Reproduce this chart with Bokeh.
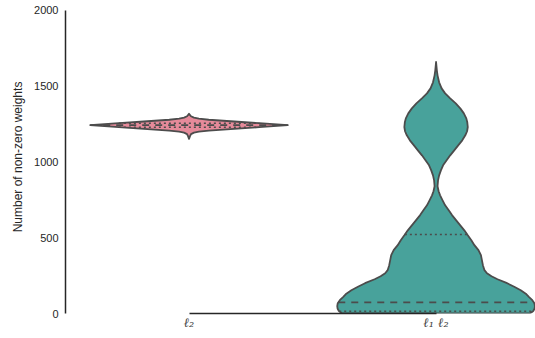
import numpy as np
from bokeh.plotting import figure
from bokeh.models import FixedTicker, Range1d
from bokeh.embed import file_html
from bokeh.resources import INLINE

# groups and their fill colours
categories = ["ℓ₂", "ℓ₁ ℓ₂"]
fill_colors = ["#e68a9a", "#48a29b"]
edge_color = "#4c4c4c"

# density outline of the ℓ₂ group: non-zero weight counts and relative width
l2_counts = [1153, 1170, 1184, 1194, 1200, 1207, 1217, 1230, 1243,
             1256, 1269, 1279, 1286, 1293, 1302, 1318]
l2_density = [0.0, 0.01, 0.02, 0.05, 0.10, 0.20, 0.42, 0.71, 1.0,
              0.71, 0.42, 0.20, 0.10, 0.05, 0.02, 0.0]
l2_quartiles = [1230, 1243, 1256]

# density outline of the ℓ₁ ℓ₂ group
l1l2_counts = [0, 11, 18, 33, 48, 68, 88, 110, 131, 154, 177, 200, 226,
               246, 266, 286, 319, 352, 385, 418, 451, 484, 516, 549, 582,
               615, 648, 681, 714, 747, 780, 807, 840, 879, 912, 945, 978,
               1011, 1044, 1077, 1110, 1143, 1176, 1203, 1231, 1262, 1288,
               1321, 1354, 1387, 1420, 1453, 1486, 1526, 1572, 1605, 1660]
l1l2_density = [0.949, 0.974, 0.985, 0.997, 1.0, 0.995, 0.974, 0.939,
                0.908, 0.857, 0.791, 0.719, 0.622, 0.561, 0.515, 0.490,
                0.474, 0.464, 0.454, 0.429, 0.388, 0.357, 0.321, 0.286,
                0.245, 0.204, 0.163, 0.128, 0.092, 0.066, 0.041, 0.026,
                0.015, 0.020, 0.031, 0.049, 0.071, 0.107, 0.143, 0.184,
                0.224, 0.265, 0.296, 0.314, 0.321, 0.316, 0.306, 0.281,
                0.245, 0.199, 0.143, 0.092, 0.056, 0.031, 0.015, 0.008,
                0.0]
l1l2_quartiles = [15, 73, 521]

y_ticks = [0, 500, 1000, 1500, 2000]

HALF = 0.4  # half of the violin width in category units

p = figure(width=535, height=338,
           x_range=Range1d(-0.5, 1.4025), y_range=Range1d(0, 2066),
           output_backend="svg", toolbar_location=None,
           min_border_left=65, min_border_right=0,
           min_border_top=0, min_border_bottom=25)
p.grid.visible = False
p.outline_line_color = None
p.background_fill_color = "white"
p.border_fill_color = "white"


def violin(center, counts, dens, quartiles, color):
    c = np.asarray(counts, float)
    d = np.asarray(dens, float)
    xs = np.concatenate([center + HALF * d, (center - HALF * d)[::-1]])
    ys = np.concatenate([c, c[::-1]])
    p.patch(xs, ys, fill_color=color, line_color=edge_color, line_width=1.8,
            line_join="round")
    for i, q in enumerate(quartiles):
        hw = HALF * np.interp(q, c, d)
        if i == 1:
            dash, lw = "7 6", 1.8
        else:
            dash, lw = "2 3", 1.5
        p.segment(x0=[center - hw], y0=[q], x1=[center + hw], y1=[q],
                  line_color=edge_color, line_width=lw, line_dash=dash)


violin(0, l2_counts, l2_density, l2_quartiles, fill_colors[0])
violin(1, l1l2_counts, l1l2_density, l1l2_quartiles, fill_colors[1])

# y axis
yax = p.yaxis[0]
yax.ticker = FixedTicker(ticks=y_ticks)
yax.bounds = (-57, 2000)
yax.axis_label = "Number of non-zero weights"
yax.axis_label_text_font = "Liberation Sans"
yax.axis_label_text_font_size = "12px"
yax.axis_label_text_font_style = "normal"
yax.axis_label_text_color = "#262626"
yax.axis_label_standoff = 6
yax.major_label_text_font = "Liberation Sans"
yax.major_label_text_font_size = "11px"
yax.major_label_text_color = "#262626"
yax.major_label_standoff = 7
yax.axis_line_color = "#262626"
yax.axis_line_width = 1.5

# x axis with the group names
xax = p.xaxis[0]
xax.ticker = FixedTicker(ticks=[0, 1])
xax.major_label_overrides = {0: categories[0], 1: categories[1]}
xax.bounds = (0, 1)
xax.major_label_text_font = "DejaVu Serif"
xax.major_label_text_font_style = "italic"
xax.major_label_text_font_size = "13px"
xax.major_label_text_color = "#444444"
xax.major_label_standoff = 1
xax.axis_line_color = "#262626"
xax.axis_line_width = 1.5

for ax in (xax, yax):
    ax.major_tick_out = 0
    ax.major_tick_in = 0
    ax.major_tick_line_color = None
    ax.minor_tick_line_color = None

open("out.html", "w").write(file_html(p, INLINE))
